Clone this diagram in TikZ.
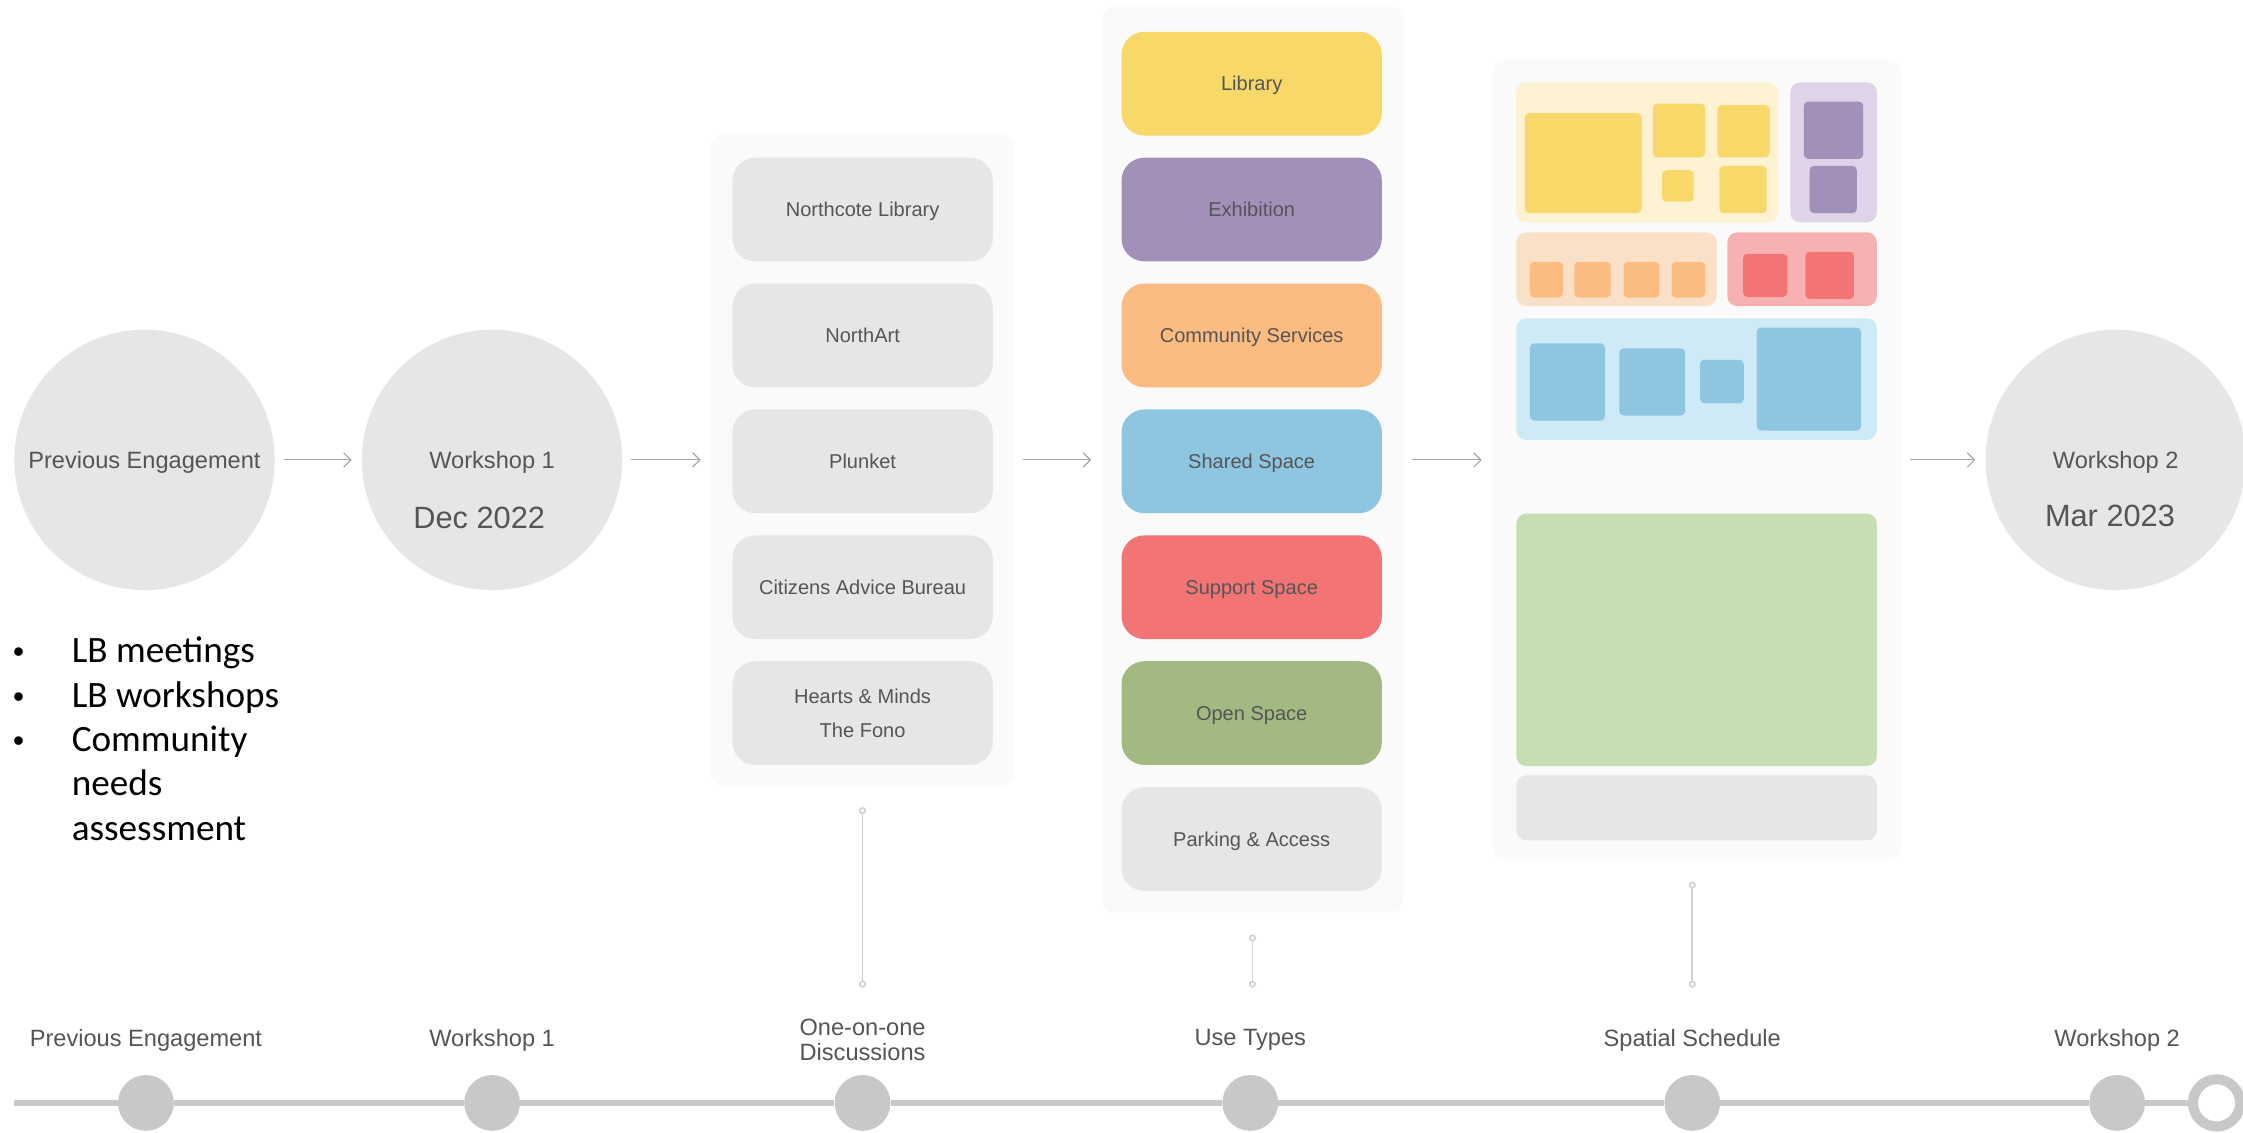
\documentclass[tikz,border=0pt]{standalone}
\usepackage{fontspec}
\setmainfont{Liberation Sans}
\newfontfamily\notefont{Carlito}
\usetikzlibrary{arrows.meta}

\definecolor{disc}{HTML}{E6E6E6}
\definecolor{panelbg}{HTML}{FAFAFA}
\definecolor{txtgray}{HTML}{555555}
\definecolor{arrowgray}{HTML}{A6A6A6}
\definecolor{stemgray}{HTML}{D2D2D2}
\definecolor{trackgray}{HTML}{C8C8C9}
\definecolor{library}{HTML}{F9D86A}
\definecolor{exhibition}{HTML}{A290BA}
\definecolor{community}{HTML}{FCBB80}
\definecolor{shared}{HTML}{8EC6E1}
\definecolor{support}{HTML}{F27475}
\definecolor{openspace}{HTML}{A3B982}
\definecolor{libtint}{HTML}{FDF2D2}
\definecolor{exhtint}{HTML}{DED3E8}
\definecolor{comtint}{HTML}{FBE0C8}
\definecolor{suptint}{HTML}{F7B1B2}
\definecolor{shatint}{HTML}{CFEAF7}
\definecolor{opentint}{HTML}{C5DFB2}

\begin{document}
\begin{tikzpicture}
  [x=1pt, y=-1pt,
   stage/.style={circle, fill=disc, minimum size=182pt, inner sep=0pt, text depth=0pt, text=txtgray, font=\fontsize{16.5}{20}\selectfont},
   datelabel/.style={text=txtgray, inner sep=0pt, font=\fontsize{21.5}{26}\selectfont},
   panel/.style={rounded corners=9pt, fill=panelbg, inner sep=0pt},
   card/.style={rounded corners=16pt, fill=#1, minimum width=182pt, minimum height=72.5pt, inner sep=0pt, text depth=0pt, text=txtgray, align=center, font=\fontsize{14}{24}\selectfont},
   card/.default=disc,
   flow/.style={draw=arrowgray, line width=0.8pt, -{Straight Barb[length=5pt, width=10pt]}, shorten <=6pt, shorten >=7pt},
   stem/.style={draw=stemgray, line width=1.2pt, {Circle[open, length=5pt]}-{Circle[open, length=5pt]}},
   dot/.style={circle, fill=trackgray, minimum size=39pt, inner sep=0pt},
   track/.style={draw=trackgray, line width=4.5pt},
   tllabel/.style={text=txtgray, inner sep=0pt, align=center, font=\fontsize{16.5}{17}\selectfont}]

  \path[use as bounding box, fill=white] (0,0) rectangle (1568,792);

  % milestones
  \node[stage] (prev) at (101,321.5) {Previous Engagement};
  \node[stage] (ws1) at (344,321.5) {Workshop 1};
  \node[datelabel] (ws1-date) at (335,362) {Dec 2022};

  % one-on-one discussions
  \node[panel, minimum width=212pt, minimum height=455pt] (talks) at (603,321.5) {};
  \foreach \txt [count=\i] in {Northcote Library, NorthArt, Plunket, Citizens Advice Bureau, {Hearts \& Minds\\The Fono}}
    \node[card] (talk-\i) at (603,58.5+88*\i) {\txt};

  % use types
  \node[panel, minimum width=211pt, minimum height=633pt] (uses) at (875.5,321.5) {};
  \foreach \txt/\col [count=\i from 0] in {Library/library, Exhibition/exhibition, Community Services/community, Shared Space/shared, Support Space/support, Open Space/openspace, Parking \& Access/disc}
    \node[card=\col] (use-\i) at (875,58.5+88*\i) {\txt};

  % spatial schedule
  \node[panel, minimum width=286pt, minimum height=559pt] (plan) at (1186,321.5) {};
  \begin{scope}[rounded corners=7pt]
    \fill[libtint] (1060,57.5) rectangle (1243,155.5);
    \fill[exhtint] (1251.5,57.5) rectangle (1312,155.5);
    \fill[comtint] (1060,162.5) rectangle (1200,214);
    \fill[suptint] (1207.5,162.5) rectangle (1312,214);
    \fill[shatint] (1060,222.5) rectangle (1312,307.5);
    \fill[opentint] (1060,359) rectangle (1312,535.5);
    \fill[disc] (1060,542) rectangle (1312,587.5);
  \end{scope}
  \begin{scope}[rounded corners=3pt]
    \fill[library] (1066,79) rectangle (1147.5,149);
    \fill[library] (1155.5,72.5) rectangle (1192,110);
    \fill[library] (1200.5,73.5) rectangle (1237,110);
    \fill[library] (1162,119) rectangle (1184,141);
    \fill[library] (1202,116) rectangle (1235,149);
    \fill[exhibition] (1261,71) rectangle (1302.5,111);
    \fill[exhibition] (1265,116) rectangle (1298,149);
    \foreach \a/\b in {1069.5/1092.5, 1100.5/1126, 1135/1160, 1168.5/1192}
      \fill[community] (\a,183) rectangle (\b,208);
    \fill[support] (1218.5,177.5) rectangle (1249.5,207.5);
    \fill[support] (1262,176) rectangle (1296,209);
    \fill[shared] (1069.5,240) rectangle (1122,294);
    \fill[shared] (1132,243.5) rectangle (1178,290.5);
    \fill[shared] (1188.5,251.5) rectangle (1219,282);
    \fill[shared] (1228,229) rectangle (1301,301);
  \end{scope}

  \node[stage] (ws2) at (1479,321.5) {Workshop 2};
  \node[datelabel] (ws2-date) at (1475,361) {Mar 2023};

  % arrows
  \draw[flow] (prev) -- (ws1);
  \draw[flow] (ws1) -- (talks);
  \draw[flow] (talks) -- (uses);
  \draw[flow] (uses) -- (plan);
  \draw[flow] (plan) -- (ws2);

  % notes
  \node[anchor=north west, inner sep=0pt, font=\notefont\fontsize{26}{31}\selectfont] (notes) at (9,441.5)
    {\def\bul{{\rmfamily\fontsize{22}{31}\selectfont\textbullet}}%
     \begin{tabular}{@{}p{41pt}@{}l@{}}
      \bul & LB meetings\\
      \bul & LB workshops\\
      \bul & Community\\
           & needs\\
           & assessment
    \end{tabular}};

  % stems
  \coordinate (stem-end) at (0,690.5);
  \draw[stem] ([yshift=-15pt]talks.south) -- (talks.south |- stem-end);
  \draw[stem] ([yshift=-15pt]uses.south) -- (uses.south |- stem-end);
  \draw[stem] ([shift={(-3pt,-15pt)}]plan.south) -- ([xshift=-3pt]plan.south |- stem-end);

  % timeline
  \coordinate (tl-start) at (10,771);
  \foreach \x/\n in {102/prev, 344/ws1, 603/talks, 874/uses, 1183/plan, 1480/ws2}
    \node[dot] (d-\n) at (\x,771) {};
  \node[circle, draw=trackgray, line width=7pt, fill=white, minimum size=33pt, inner sep=0pt] (d-end) at (1549.5,771) {};
  \draw[track] (tl-start) -- (d-prev) -- (d-ws1) -- (d-talks) -- (d-uses) -- (d-plan) -- (d-ws2) -- (d-end);

  \node[tllabel] (l-prev) at (102,727) {Previous Engagement};
  \node[tllabel] (l-ws1) at (344,727) {Workshop 1};
  \node[tllabel] (l-talks) at (603,727) {One-on-one\\Discussions};
  \node[tllabel] (l-uses) at (874,727) {Use Types};
  \node[tllabel] (l-plan) at (1183,727) {Spatial Schedule};
  \node[tllabel] (l-ws2) at (1480,727) {Workshop 2};

\end{tikzpicture}
\end{document}
